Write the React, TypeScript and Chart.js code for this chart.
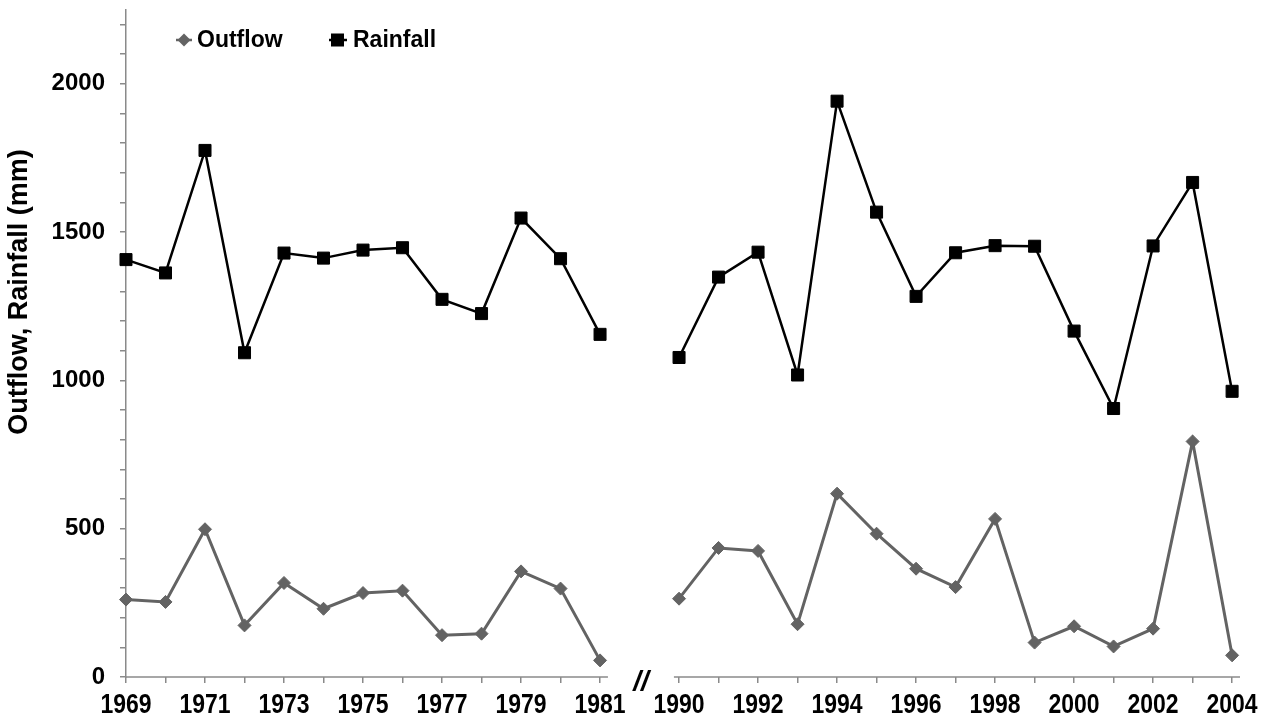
import React, { useEffect, useRef } from 'react';
import { Chart, registerables } from 'chart.js';

Chart.register(...registerables);

// ---- data ----
const yearsEarly = [1969, 1970, 1971, 1972, 1973, 1974, 1975, 1976, 1977, 1978, 1979, 1980, 1981];
const yearsLate = [1990, 1991, 1992, 1993, 1994, 1995, 1996, 1997, 1998, 1999, 2000, 2001, 2002, 2003, 2004];
const rainfallEarly = [1407, 1362, 1775, 1093, 1429, 1412, 1439, 1447, 1273, 1225, 1547, 1410, 1155];
const outflowEarly = [261, 253, 498, 174, 317, 230, 283, 291, 141, 146, 356, 298, 56];
const rainfallLate = [1077, 1348, 1432, 1018, 1941, 1567, 1283, 1430, 1454, 1452, 1166, 905, 1453, 1667, 963];
const outflowLate = [264, 435, 425, 178, 618, 483, 365, 303, 533, 116, 171, 103, 163, 794, 73];
const yLabelValues = [0, 500, 1000, 1500, 2000];
const seriesNames = ['Outflow', 'Rainfall'];
const yTitle = 'Outflow, Rainfall (mm)';

// ---- scale setup ----
const Y_MAX = 2250;
const Y_MINOR = 100;
const LATE_OFFSET = yearsEarly.length + 1; // one empty slot marks the axis break

const posEarly = yearsEarly.map((_, i) => i);
const posLate = yearsLate.map((_, j) => LATE_OFFSET + j);
const tickPositions = [...posEarly, ...posLate];
const tickLabels = [
  ...yearsEarly.map((y, i) => (i % 2 === 0 ? String(y) : '')),
  ...yearsLate.map((y, j) => (j % 2 === 0 ? String(y) : '')),
];
const X_MAX = posLate[posLate.length - 1] + 0.2;
const EARLY_AXIS_END = posEarly[posEarly.length - 1] + 0.2;
const LATE_AXIS_START = LATE_OFFSET - 0.13;

function series(early: number[], late: number[]) {
  return [
    ...early.map((v, i) => ({ x: posEarly[i], y: v })),
    { x: LATE_OFFSET - 1, y: null },
    ...late.map((v, j) => ({ x: posLate[j], y: v })),
  ];
}

// ---- styles ----
const AXIS = '#8a8a8a';
const GREY = '#636363';
const FONT = "'Liberation Sans', Arial, sans-serif";

const overlay = {
  id: 'overlay',
  beforeDatasetsDraw(chart: any) {
    const { ctx, scales, chartArea } = chart;
    const x = scales.x;
    const y = chartArea.bottom;
    ctx.save();
    ctx.strokeStyle = AXIS;
    ctx.lineWidth = 1.5;
    ctx.beginPath();
    ctx.moveTo(x.getPixelForValue(0), y);
    ctx.lineTo(x.getPixelForValue(EARLY_AXIS_END), y);
    ctx.moveTo(x.getPixelForValue(LATE_AXIS_START), y);
    ctx.lineTo(chartArea.right, y);
    ctx.stroke();
    ctx.restore();
  },
  afterDraw(chart: any) {
    const { ctx, scales, chartArea } = chart;
    const x = scales.x;
    ctx.save();
    ctx.fillStyle = '#000';

    // x tick labels (condensed bold)
    ctx.font = `bold 28px ${FONT}`;
    ctx.textAlign = 'center';
    ctx.textBaseline = 'middle';
    tickPositions.forEach((p, i) => {
      const label = tickLabels[i];
      if (!label) return;
      ctx.save();
      ctx.translate(x.getPixelForValue(p), chartArea.bottom + 28);
      ctx.scale(0.82, 1);
      ctx.fillText(label, 0, 0);
      ctx.restore();
    });

    // break marker
    const bx = (x.getPixelForValue(EARLY_AXIS_END) + x.getPixelForValue(LATE_AXIS_START)) / 2;
    ctx.font = `italic bold 28px ${FONT}`;
    ctx.fillText('//', bx, chartArea.bottom + 5);

    // y title
    ctx.save();
    ctx.translate(20, 292);
    ctx.rotate(-Math.PI / 2);
    ctx.font = `bold 27px ${FONT}`;
    ctx.fillText(yTitle, 0, 0);
    ctx.restore();

    // legend
    const ly = 40;
    ctx.font = `bold 23px ${FONT}`;
    ctx.textAlign = 'left';
    ctx.textBaseline = 'middle';
    // Outflow
    ctx.strokeStyle = GREY;
    ctx.lineWidth = 2.5;
    ctx.beginPath();
    ctx.moveTo(176, ly);
    ctx.lineTo(192, ly);
    ctx.stroke();
    ctx.fillStyle = GREY;
    ctx.beginPath();
    ctx.moveTo(184, ly - 6.5);
    ctx.lineTo(190.5, ly);
    ctx.lineTo(184, ly + 6.5);
    ctx.lineTo(177.5, ly);
    ctx.closePath();
    ctx.fill();
    ctx.fillStyle = '#000';
    ctx.fillText(seriesNames[0], 197, ly + 1);
    // Rainfall
    ctx.strokeStyle = '#000';
    ctx.beginPath();
    ctx.moveTo(329, ly);
    ctx.lineTo(347, ly);
    ctx.stroke();
    ctx.fillRect(331, ly - 6.5, 13, 13);
    ctx.fillText(seriesNames[1], 353, ly + 1);
    ctx.restore();
  },
};

export default function App() {
  const ref = useRef<HTMLCanvasElement | null>(null);

  useEffect(() => {
    if (!ref.current) return;
    const chart = new Chart(ref.current, {
      type: 'line',
      data: {
        datasets: [
          {
            label: seriesNames[0],
            data: series(outflowEarly, outflowLate) as any,
            borderColor: GREY,
            backgroundColor: GREY,
            borderWidth: 3,
            pointStyle: 'rectRot',
            pointRadius: 6.5,
            pointBackgroundColor: GREY,
            pointBorderColor: GREY,
            pointBorderWidth: 1,
            spanGaps: false,
            tension: 0,
            clip: false as any,
          },
          {
            label: seriesNames[1],
            data: series(rainfallEarly, rainfallLate) as any,
            borderColor: '#000',
            backgroundColor: '#000',
            borderWidth: 2.5,
            pointStyle: 'rect',
            pointRadius: 8.5,
            pointBackgroundColor: '#000',
            pointBorderColor: '#000',
            pointBorderWidth: 1,
            spanGaps: false,
            tension: 0,
            clip: false as any,
          },
        ],
      },
      options: {
        responsive: false,
        animation: false,
        layout: { padding: { left: 0, right: 24, top: 9, bottom: 0 } },
        plugins: { legend: { display: false }, tooltip: { enabled: false } },
        scales: {
          x: {
            type: 'linear',
            min: 0,
            max: X_MAX,
            afterBuildTicks: (s: any) => {
              s.ticks = tickPositions.map((v) => ({ value: v }));
            },
            afterFit: (s: any) => {
              s.height = 48;
              s.paddingLeft = 0;
              s.paddingRight = 0;
            },
            ticks: {
              autoSkip: false,
              maxRotation: 0,
              minRotation: 0,
              callback: () => '',
            },
            grid: { drawOnChartArea: false, drawTicks: true, tickLength: 6, color: AXIS, lineWidth: 1.5 },
            border: { display: false },
          },
          y: {
            min: 0,
            max: Y_MAX,
            afterBuildTicks: (s: any) => {
              const t = [];
              for (let v = 0; v <= Y_MAX - Y_MINOR / 2; v += Y_MINOR) t.push({ value: v });
              s.ticks = t;
            },
            afterFit: (s: any) => {
              s.width = 126;
              s.paddingTop = 0;
              s.paddingBottom = 0;
            },
            ticks: {
              autoSkip: false,
              padding: 15,
              color: '#000',
              font: { family: FONT, size: 24, weight: 'bold' },
              callback: (v: any) => (yLabelValues.includes(Number(v)) ? String(v) : ''),
            },
            grid: { drawOnChartArea: false, drawTicks: true, tickLength: 6, color: AXIS, lineWidth: 1.5 },
            border: { display: true, color: AXIS, width: 1.5 },
          },
        },
      },
      plugins: [overlay],
    });
    return () => chart.destroy();
  }, []);

  return (
    <div style={{ position: 'absolute', left: 0, top: 0, width: 1264, height: 725, background: '#fff' }}>
      <canvas ref={ref} width={1264} height={725} style={{ display: 'block' }} />
    </div>
  );
}
